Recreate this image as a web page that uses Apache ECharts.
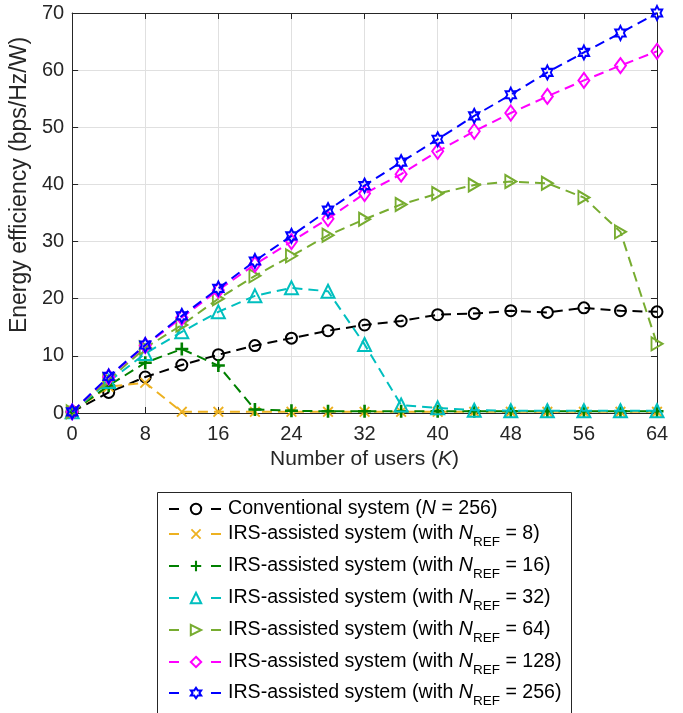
<!DOCTYPE html>
<html>
<head>
<meta charset="utf-8">
<script src="https://cdn.jsdelivr.net/npm/echarts@6/dist/echarts.min.js"></script>
<style>
html,body{margin:0;padding:0;background:#fff;}
#chart{width:683px;height:713px;}
</style>
</head>
<body>
<div id="chart"></div>
<script>
// ---- data ----
const users = [0, 4, 8, 12, 16, 20, 24, 28, 32, 36, 40, 44, 48, 52, 56, 60, 64];
const conventional = [0.2, 3.6, 6.3, 8.4, 10.2, 11.8, 13.1, 14.4, 15.4, 16.1, 17.2, 17.4, 17.9, 17.6, 18.4, 17.9, 17.7];
const irsRef8 = [0.2, 4.6, 5.3, 0.2, 0.2, 0.2, 0.2, 0.2, 0.2, 0.2, 0.2, 0.2, 0.2, 0.2, 0.2, 0.2, 0.2];
const irsRef16 = [0.2, 4.8, 8.8, 11.2, 8.3, 0.6, 0.4, 0.3, 0.3, 0.3, 0.3, 0.3, 0.3, 0.3, 0.3, 0.3, 0.3];
const irsRef32 = [0.2, 5.5, 10.4, 14.2, 17.7, 20.5, 21.9, 21.3, 12.0, 1.4, 0.9, 0.5, 0.4, 0.4, 0.4, 0.4, 0.4];
const irsRef64 = [0.2, 5.8, 11.4, 15.4, 20.0, 24.0, 27.5, 31.1, 33.9, 36.5, 38.4, 39.9, 40.5, 40.2, 37.7, 31.7, 12.1];
const irsRef128 = [0.2, 6.3, 11.8, 16.7, 21.5, 26.0, 30.0, 34.0, 38.4, 41.8, 45.8, 49.3, 52.5, 55.4, 58.2, 60.8, 63.3];
const irsRef256 = [0.2, 6.4, 11.9, 17.0, 21.8, 26.6, 31.0, 35.5, 39.8, 43.9, 47.9, 52.0, 55.7, 59.6, 63.1, 66.5, 70.0];
const xTicks = [0, 8, 16, 24, 32, 40, 48, 56, 64];
const yTicks = [0, 10, 20, 30, 40, 50, 60, 70];
const seriesNames = [
  'Conventional system ({i|N} = 256)',
  'IRS-assisted system (with {i|N}{sub|REF} = 8)',
  'IRS-assisted system (with {i|N}{sub|REF} = 16)',
  'IRS-assisted system (with {i|N}{sub|REF} = 32)',
  'IRS-assisted system (with {i|N}{sub|REF} = 64)',
  'IRS-assisted system (with {i|N}{sub|REF} = 128)',
  'IRS-assisted system (with {i|N}{sub|REF} = 256)'
];
const seriesValues = [conventional, irsRef8, irsRef16, irsRef32, irsRef64, irsRef128, irsRef256];
const colors = ['#000000', '#EDB120', '#008000', '#00BFBF', '#77AC30', '#FF00FF', '#0000FF'];

// ---- styles ----
const FONT = 'Liberation Sans, Arial, Helvetica, sans-serif';
const PLUS = 'path://M40 0 H60 V40 H100 V60 H60 V100 H40 V60 H0 V40 H40 Z';
const CROSS = 'path://M0 12 L12 0 L50 38 L88 0 L100 12 L62 50 L100 88 L88 100 L50 62 L12 100 L0 88 L38 50 Z';
const RTRI = 'path://M0 0 L100 50 L0 100 Z';
const HEX = 'path://M50 0 L64.43 25 L93.3 25 L78.87 50 L93.3 75 L64.43 75 L50 100 L35.57 75 L6.7 75 L21.13 50 L6.7 25 L35.57 25 Z';
const symbols = [
  {symbol: 'circle', size: 11, hollow: true},
  {symbol: CROSS, size: 11, hollow: false},
  {symbol: PLUS, size: 13, hollow: false},
  {symbol: 'triangle', size: 13, hollow: true},
  {symbol: RTRI, size: [11, 13], hollow: true},
  {symbol: 'diamond', size: [11, 15], hollow: true},
  {symbol: HEX, size: [12, 14], hollow: true}
];

const series = seriesValues.map((vals, i) => ({
  name: seriesNames[i],
  type: 'line',
  data: users.map((u, j) => [u, vals[j]]),
  symbol: symbols[i].symbol,
  symbolSize: symbols[i].size,
  showAllSymbol: true,
  symbolKeepAspect: true,
  lineStyle: {color: colors[i], width: 2, type: [10, 6]},
  itemStyle: symbols[i].hollow
    ? {color: 'rgba(255,255,255,0)', borderColor: colors[i], borderWidth: 2}
    : {color: colors[i], borderWidth: 0},
  emphasis: {disabled: true},
  z: 2 + i
}));

const LFS = 19.6;
const richText = {
  i: {fontStyle: 'italic', fontSize: LFS, fontFamily: FONT, color: '#000', lineHeight: 22},
  sub: {fontSize: 13.5, fontFamily: FONT, color: '#000', lineHeight: 14, padding: [16, 0, 0, 0]}
};
// row centres of the legend entries
const legendRowCenters = [509, 534, 566, 598, 630, 662, 693];
const legends = seriesNames.map((name, i) => ({
  orient: 'vertical',
  left: 168,
  top: legendRowCenters[i] - (i === 0 ? 11 : 15),
  padding: 0,
  itemWidth: 54,
  itemHeight: 13,
  textStyle: {fontSize: LFS, fontFamily: FONT, color: '#000', lineHeight: 22, rich: richText},
  lineStyle: {type: [10, 32], width: 2},
  selectedMode: false,
  data: [name]
}));

const axisLineStyle = {color: '#262626', width: 1};
const option = {
  animation: false,
  backgroundColor: '#ffffff',
  grid: {left: 71, right: 26, top: 13, bottom: 300, containLabel: false},
  graphic: [{
    type: 'rect', left: 157, top: 492, z: 0,
    shape: {width: 414, height: 240},
    style: {fill: '#ffffff', stroke: '#262626', lineWidth: 1}
  }],
  legend: legends,
  xAxis: [{
    type: 'value', min: xTicks[0], max: xTicks[xTicks.length - 1], interval: 8,
    name: 'Number of users ({i|K})', nameLocation: 'middle', nameGap: 35,
    nameTextStyle: {fontSize: 21, fontFamily: FONT, color: '#262626', rich: {i: {fontStyle: 'italic', fontSize: 21, fontFamily: FONT, color: '#262626'}}},
    axisLine: {show: true, onZero: false, lineStyle: axisLineStyle},
    axisTick: {show: true, inside: true, length: 6, lineStyle: axisLineStyle},
    axisLabel: {fontSize: 20, fontFamily: FONT, color: '#262626', margin: 11},
    splitLine: {show: true, lineStyle: {color: '#e0e0e0', width: 1}}
  }, {
    type: 'value', position: 'top', min: xTicks[0], max: xTicks[xTicks.length - 1], interval: 8,
    axisLine: {show: true, onZero: false, lineStyle: axisLineStyle},
    axisTick: {show: true, inside: true, length: 6, lineStyle: axisLineStyle},
    axisLabel: {show: false}, splitLine: {show: false}
  }],
  yAxis: [{
    type: 'value', min: yTicks[0], max: yTicks[yTicks.length - 1], interval: 10,
    name: 'Energy efficiency (bps/Hz/W)', nameLocation: 'middle', nameGap: 35,
    nameTextStyle: {fontSize: 23, fontFamily: FONT, color: '#262626', padding: [0, 0, 0, 56]},
    axisLine: {show: true, onZero: false, lineStyle: axisLineStyle},
    axisTick: {show: true, inside: true, length: 6, lineStyle: axisLineStyle},
    axisLabel: {fontSize: 20, fontFamily: FONT, color: '#262626', margin: 8},
    splitLine: {show: true, lineStyle: {color: '#e0e0e0', width: 1}}
  }, {
    type: 'value', position: 'right', min: yTicks[0], max: yTicks[yTicks.length - 1], interval: 10,
    axisLine: {show: true, onZero: false, lineStyle: axisLineStyle},
    axisTick: {show: true, inside: true, length: 6, lineStyle: axisLineStyle},
    axisLabel: {show: false}, splitLine: {show: false}
  }],
  series: series
};

const chart = echarts.init(document.getElementById('chart'), null, {renderer: 'canvas'});
chart.setOption(option);
</script>
</body>
</html>
